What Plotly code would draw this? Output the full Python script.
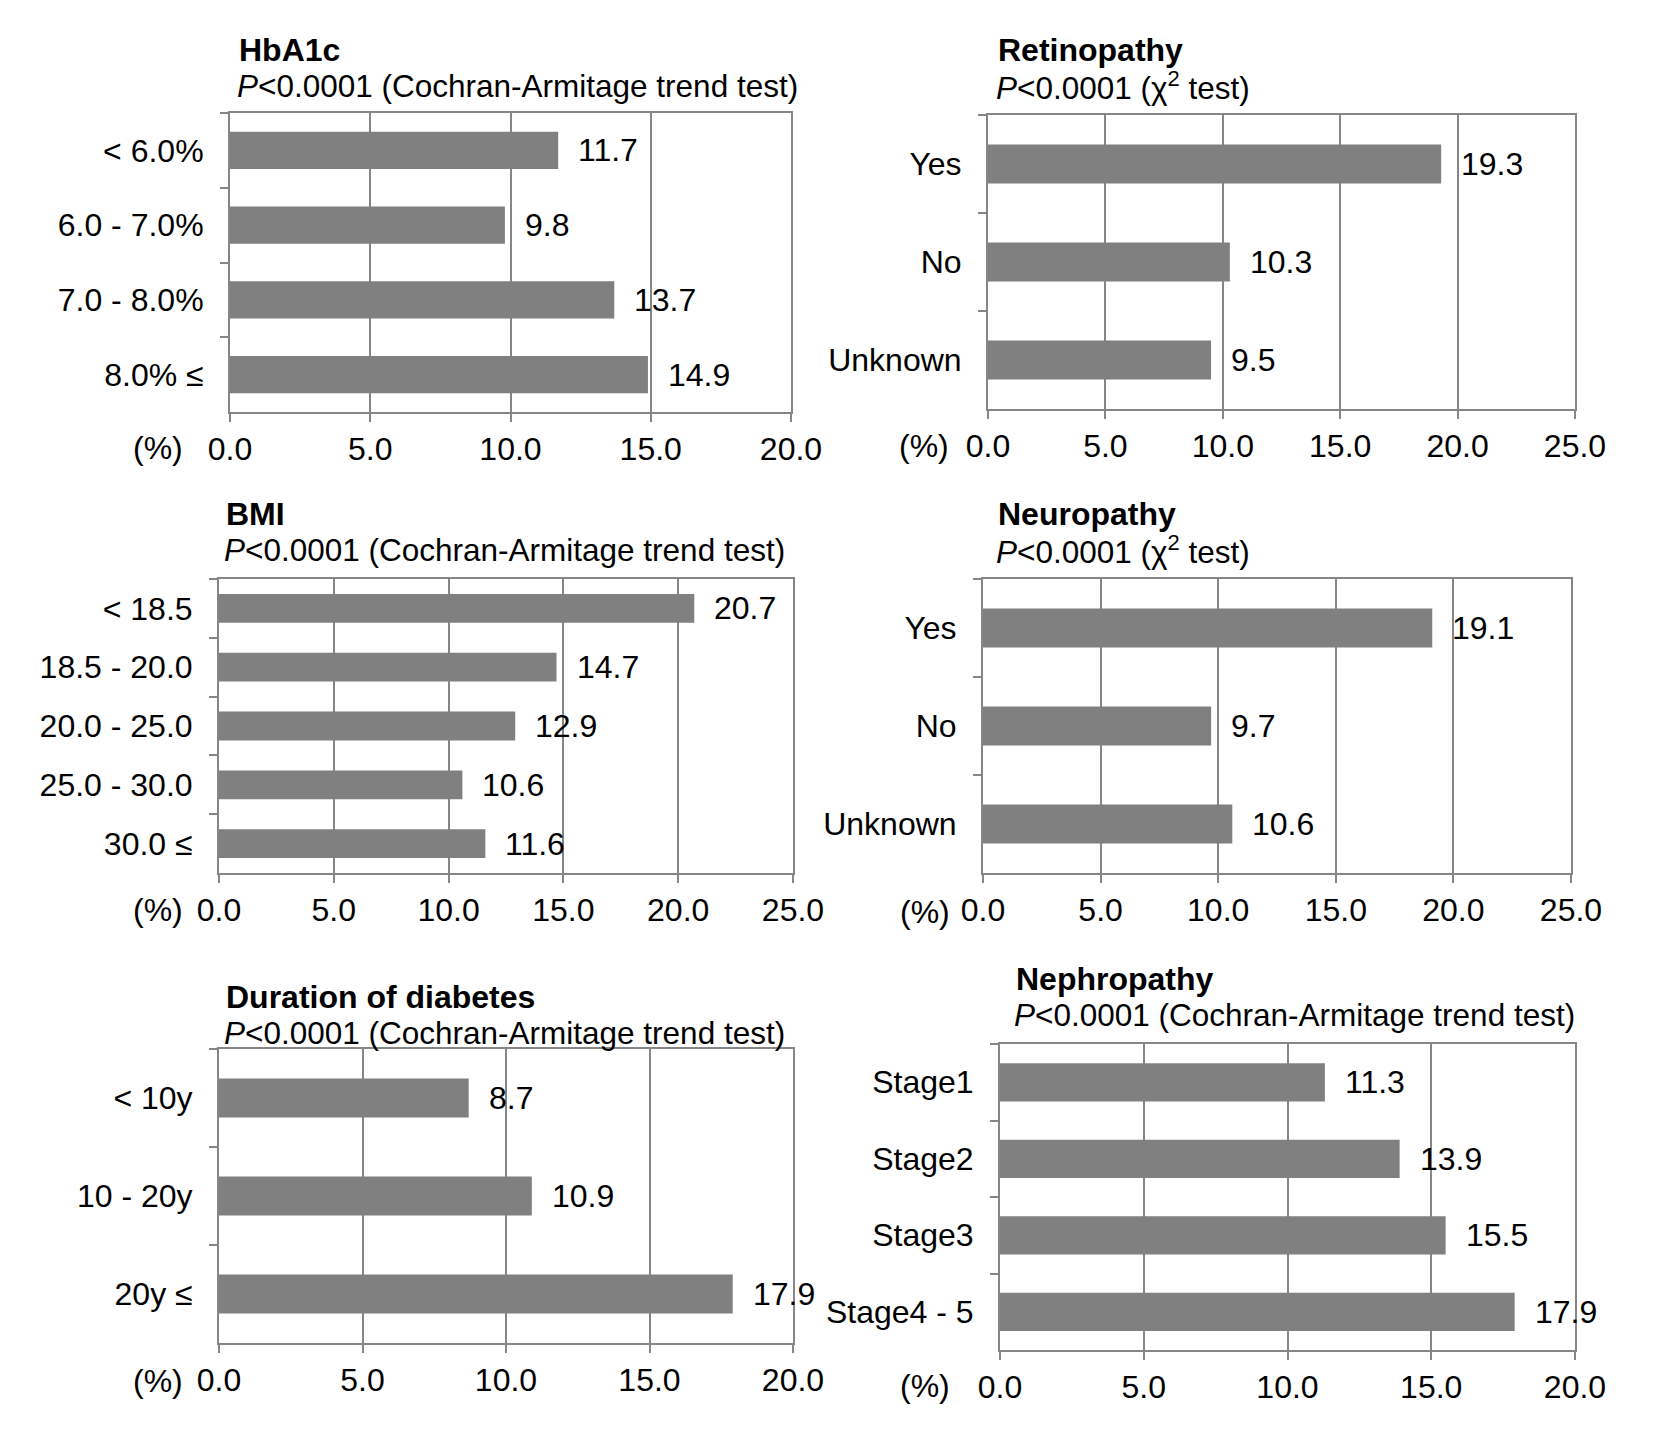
import plotly.graph_objects as go

W, H = 1654, 1436

# ---- data ----
hba1c_labels = ["< 6.0%", "6.0 - 7.0%", "7.0 - 8.0%", "8.0% ≤"]
hba1c_values = [11.7, 9.8, 13.7, 14.9]

retino_labels = ["Yes", "No", "Unknown"]
retino_values = [19.3, 10.3, 9.5]

bmi_labels = ["< 18.5", "18.5 - 20.0", "20.0 - 25.0", "25.0 - 30.0", "30.0 ≤"]
bmi_values = [20.7, 14.7, 12.9, 10.6, 11.6]

neuro_labels = ["Yes", "No", "Unknown"]
neuro_values = [19.1, 9.7, 10.6]

duration_labels = ["< 10y", "10 - 20y", "20y ≤"]
duration_values = [8.7, 10.9, 17.9]

nephro_labels = ["Stage1", "Stage2", "Stage3", "Stage4 - 5"]
nephro_values = [11.3, 13.9, 15.5, 17.9]

titles = ["HbA1c", "Retinopathy", "BMI", "Neuropathy", "Duration of diabetes", "Nephropathy"]
trend = "<i>P</i>&lt;0.0001 (Cochran-Armitage trend test)"
chi2 = "<i>P</i>&lt;0.0001 (χ<sup>2</sup> test)"
subtitles = [trend, chi2, trend, chi2, trend, trend]
x_max = [20, 25, 25, 25, 20, 20]

# ---- layout (pixel geometry) ----
# plot area: left, right, top, bottom
boxes = [
    (230, 791, 113, 412),
    (988, 1575, 115, 409),
    (219, 793, 579, 873),
    (983, 1571, 579, 873),
    (219, 793, 1049, 1343),
    (1000, 1575, 1044, 1350),
]
title_pos = [(237, 50, 86), (996, 50, 86), (224, 514, 550), (996, 514, 550), (224, 997, 1033), (1014, 979, 1015)]
pct_pos = [(158, 448), (924, 446), (158, 910), (925, 912), (158, 1381), (925, 1386)]
bar_w = [0.5, 0.4, 0.49, 0.4, 0.4, 0.5]

data = [
    (hba1c_labels, hba1c_values),
    (retino_labels, retino_values),
    (bmi_labels, bmi_values),
    (neuro_labels, neuro_values),
    (duration_labels, duration_values),
    (nephro_labels, nephro_values),
]

FONT = "Arial, Liberation Sans, sans-serif"
GRAY = "#868686"
BAR = "#808080"
FS = 32

fig = go.Figure()
annotations = []
layout_axes = {}

for i, ((labels, values), (l, r, t, b)) in enumerate(zip(data, boxes)):
    n = i + 1
    xa = "x" if n == 1 else f"x{n}"
    ya = "y" if n == 1 else f"y{n}"
    fig.add_trace(go.Bar(
        x=values, y=labels, orientation="h",
        marker=dict(color=BAR, line=dict(width=0)),
        width=bar_w[i], xaxis=xa, yaxis=ya, showlegend=False,
        hoverinfo="x+y",
    ))
    for lab, v in zip(labels, values):
        annotations.append(dict(
            x=v, y=lab, xref=xa, yref=ya, text=f"{v:.1f}",
            xanchor="left", yanchor="middle", xshift=18, showarrow=False,
            font=dict(family=FONT, size=FS, color="black"),
        ))
    layout_axes[f"xaxis{n}" if n > 1 else "xaxis"] = dict(
        domain=[l / W, r / W], anchor=ya, range=[0, x_max[i]], dtick=5,
        tickformat=".1f", showgrid=True, gridcolor=GRAY, gridwidth=2,
        showline=True, linecolor=GRAY, linewidth=2, mirror=True,
        ticks="outside", ticklen=8, tickwidth=2, tickcolor=GRAY,
        zeroline=False, fixedrange=True, ticklabelstandoff=0, automargin=False,
        tickfont=dict(family=FONT, size=FS, color="black"),
    )
    layout_axes[f"yaxis{n}" if n > 1 else "yaxis"] = dict(
        domain=[1 - b / H, 1 - t / H], anchor=xa, type="category",
        autorange="reversed", showgrid=False,
        showline=True, linecolor=GRAY, linewidth=2, mirror=True,
        ticks="outside", ticklen=8, tickwidth=2, tickcolor=GRAY,
        tickson="boundaries", zeroline=False, fixedrange=True,
        ticklabelstandoff=18, automargin=False,
        tickfont=dict(family=FONT, size=FS, color="black"),
    )
    tx, ty, sy = title_pos[i]
    annotations.append(dict(
        x=tx / W, y=1 - ty / H, xref="paper", yref="paper", text=f"<b>{titles[i]}</b>",
        xanchor="left", yanchor="middle", showarrow=False,
        font=dict(family=FONT, size=32, color="black"),
    ))
    annotations.append(dict(
        x=tx / W - 0.001, y=1 - sy / H, xref="paper", yref="paper", text=subtitles[i],
        xanchor="left", yanchor="middle", showarrow=False,
        font=dict(family=FONT, size=31.5, color="black"),
    ))
    px_, py_ = pct_pos[i]
    annotations.append(dict(
        x=px_ / W, y=1 - py_ / H, xref="paper", yref="paper", text="(%)",
        xanchor="center", yanchor="middle", showarrow=False,
        font=dict(family=FONT, size=FS, color="black"),
    ))

fig.update_layout(
    width=W, height=H, margin=dict(l=0, r=0, t=0, b=0, pad=0, autoexpand=False),
    paper_bgcolor="white", plot_bgcolor="white",
    annotations=annotations, **layout_axes,
)

fig.write_html("out.html",
               config=dict(displayModeBar=False),
               post_script="document.body.style.margin='0';document.body.style.overflow='hidden';")
